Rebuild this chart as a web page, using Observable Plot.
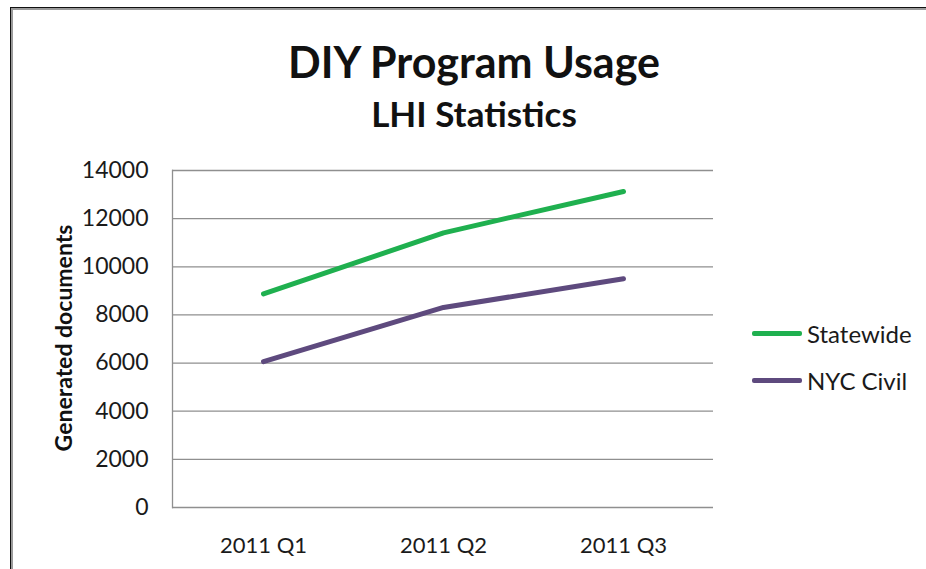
<!DOCTYPE html>
<html>
<head>
<meta charset="utf-8">
<script src="https://cdn.jsdelivr.net/npm/d3@7"></script>
<script src="https://cdn.jsdelivr.net/npm/@observablehq/plot@0.6"></script>
<style>
  html, body { margin: 0; padding: 0; background: #fff; }
  #wrap { position: relative; width: 926px; height: 569px; overflow: hidden; font-family: Lato, "Open Sans", sans-serif; color: #111; }
  #wrap svg { position: absolute; left: 0; top: 0; }
  .abs { position: absolute; white-space: nowrap; }
  .title { left: 0; width: 948px; text-align: center; font-weight: bold; line-height: 1; }
  .leg { display: flex; align-items: center; font-size: 24px; color: #1a1a1a; }
  .leg span.sw { display: inline-block; width: 50px; height: 5px; border-radius: 2px; margin-right: 5px; }
</style>
</head>
<body>
<div id="wrap">
  <div class="abs" style="left:10px;top:7px;width:916px;height:1px;background:#111"></div>
  <div class="abs" style="left:11px;top:8px;width:915px;height:2px;background:#9a9a9a"></div>
  <div class="abs" style="left:10px;top:7px;width:1px;height:562px;background:#111"></div>
  <div class="abs" style="left:11px;top:8px;width:2px;height:561px;background:#9a9a9a"></div>
  <div id="chart"></div>
  <div class="abs title" id="t1" style="top:40px;font-size:43px;"></div>
  <div class="abs title" id="t2" style="top:96px;font-size:35px;"></div>
  <div class="abs" id="ylab" style="left:63px;top:338px;font-size:23px;font-weight:bold;transform:translate(-50%,-50%) rotate(-90deg);"></div>
  <div class="abs" id="legend" style="left:752px;top:310px;"></div>
</div>
<script>
const titleText = "DIY Program Usage";
const subtitleText = "LHI Statistics";
const yLabel = "Generated documents";
const quarters = ["2011 Q1", "2011 Q2", "2011 Q3"];
const seriesNames = ["Statewide", "NYC Civil"];
const seriesColors = ["#1fb04f", "#5e4a7e"];
const statewide = [8870, 11410, 13130];
const nycCivil = [6060, 8310, 9500];
const yTicks = [0, 2000, 4000, 6000, 8000, 10000, 12000, 14000];

const rows = [];
quarters.forEach((q, i) => {
  rows.push({quarter: q, series: seriesNames[0], value: statewide[i]});
  rows.push({quarter: q, series: seriesNames[1], value: nycCivil[i]});
});

document.getElementById("t1").textContent = titleText;
document.getElementById("t2").textContent = subtitleText;
document.getElementById("ylab").textContent = yLabel;

const legend = document.getElementById("legend");
seriesNames.forEach((name, i) => {
  const row = document.createElement("div");
  row.className = "leg";
  row.style.height = "47px";
  const sw = document.createElement("span");
  sw.className = "sw";
  sw.style.background = seriesColors[i];
  const tx = document.createElement("span");
  tx.textContent = name;
  row.appendChild(sw);
  row.appendChild(tx);
  legend.appendChild(row);
});

const chart = Plot.plot({
  width: 926,
  height: 569,
  marginTop: 170,
  marginBottom: 62,
  marginLeft: 172,
  marginRight: 213,
  style: {fontFamily: "Lato, 'Open Sans', sans-serif", fontSize: "22px", color: "#1a1a1a", background: "transparent", overflow: "visible"},
  x: {type: "point", domain: quarters, padding: 0.5, label: null},
  y: {domain: [0, 14000], label: null},
  color: {domain: seriesNames, range: seriesColors},
  marks: [
    Plot.ruleY(yTicks, {stroke: "#8f8f8f", strokeWidth: 1.3}),
    Plot.frame({anchor: "left", stroke: "#8f8f8f", strokeWidth: 1.3}),
    Plot.axisY({ticks: yTicks, tickSize: 0, tickPadding: 24, tickFormat: d => String(d), fontSize: 23}),
    Plot.axisX({tickSize: 0, tickPadding: 30, fontSize: 22}),
    Plot.line(rows, {x: "quarter", y: "value", stroke: "series", z: "series", strokeWidth: 5, strokeLinecap: "round", strokeLinejoin: "round"})
  ]
});
document.getElementById("chart").appendChild(chart);
</script>
</body>
</html>
